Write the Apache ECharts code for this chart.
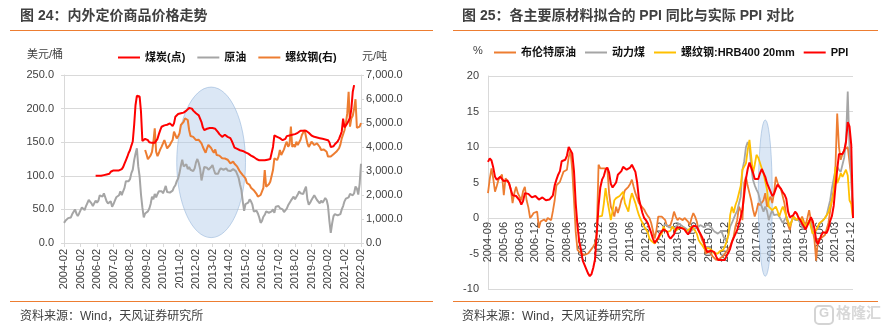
<!DOCTYPE html>
<html><head><meta charset="utf-8">
<script src="https://cdn.jsdelivr.net/npm/echarts@6/dist/echarts.min.js"></script>
<style>html,body{margin:0;padding:0;background:#fff}#c{width:887px;height:331px}</style>
</head><body><div id="c"></div>
<script>
// ---------- Left chart: 内外定价商品价格走势 (monthly, 2004-02 .. 2022-02) ----------
function monthRange(y0, m0, y1, m1) {
  const out = [];
  let y = y0, m = m0;
  while (y < y1 || (y === y1 && m <= m1)) {
    out.push(y + '-' + (m < 10 ? '0' + m : m));
    m++; if (m > 12) { m = 1; y++; }
  }
  return out;
}
const leftMonths = monthRange(2004, 2, 2022, 2);

// 原油 (美元/桶, left axis)
const oil = [
  30,33,33,37,36,38,43,44,50,44,40,
  44,46,53,52,49,55,57,64,63,59,55,57,
  63,60,63,71,70,69,74,73,62,59,59,62,
  54,58,63,68,68,71,77,71,77,82,92,91,
  92,95,104,109,123,133,141,114,99,72,53,38,
  44,43,47,51,58,69,65,73,68,73,77,75,
  77,74,79,85,76,75,75,77,78,83,86,92,
  96,104,115,124,114,114,117,110,113,109,111,107,
  111,120,125,119,110,93,103,113,113,112,109,109,
  113,116,109,103,103,103,108,111,111,109,108,111,
  108,109,107,108,110,112,107,102,97,87,79,62,
  48,58,56,60,65,62,57,47,48,48,44,38,
  30,33,39,42,47,48,45,46,47,50,45,54,
  55,55,52,53,50,46,48,51,56,58,63,64,
  69,65,66,72,77,74,74,73,79,84,65,57,
  60,64,66,71,71,64,64,59,63,60,63,67,
  64,55,33,15,29,40,43,45,41,40,43,50,
  55,62,66,65,68,73,75,71,74,84,81,72,
  88,118
];

// 煤炭(点) (left axis)
const coal = [
  null,null,null,null,null,null,null,null,null,null,null,
  null,null,null,null,null,null,null,null,null,null,null,null,
  100,100,100,100,100,101,101,102,102,102,103,106,
  108,108,108,108,108,108,108,110,113,118,123,128,
  134,138,145,151,175,205,219,220,218,195,152,150,
  155,156,153,150,149,149,149,149,150,155,162,168,
  173,175,175,175,176,177,178,176,174,178,188,190,
  192,192,193,193,194,195,197,199,201,202,200,197,
  195,193,192,190,188,180,172,168,169,170,171,171,
  171,171,171,170,168,165,162,160,158,159,161,160,
  158,157,156,152,147,142,141,140,139,138,138,137,
  136,135,134,133,131,130,129,128,127,125,124,123,
  123,123,123,123,124,124,125,125,126,143,160,160,
  158,157,156,155,153,153,155,159,158,160,161,161,
  161,162,163,164,166,167,167,167,167,167,166,164,
  162,160,159,158,157,157,156,156,155,155,154,154,
  155,153,150,143,141,144,147,149,151,155,160,166,
  185,172,170,178,182,186,200,225,235,null,null,null,
  null,null
];

// 螺纹钢(右) (元/吨, right axis)
const rebar = [
  null,null,null,null,null,null,null,null,null,null,null,
  null,null,null,null,null,null,null,null,null,null,null,null,
  null,null,null,null,null,null,null,null,null,null,null,null,
  null,null,null,null,null,null,null,null,null,null,null,null,
  null,null,null,null,null,null,null,null,null,null,null,null,
  3875,3700,3490,3550,3650,3800,4200,4780,3800,3620,3750,3900,
  4014,4150,4290,4300,3945,3900,4083,4200,4290,4640,4500,4360,
  4450,4570,4917,4900,5050,5195,5150,5125,4708,4458,4500,4420,
  4350,4290,4220,4300,4360,4150,4000,3875,3760,3945,4083,4000,
  3958,3850,3760,3900,3667,3600,3640,3667,3530,3600,3520,3458,
  3470,3458,3320,3360,3390,3300,3250,3180,3100,2970,2900,2830,
  2760,2695,2500,2555,2420,2300,2278,2200,2139,2050,1930,1950,
  2000,2000,2300,3040,2347,2417,2450,2555,2625,3040,3530,3458,
  3458,3600,3875,3667,3750,3900,4083,4220,4014,4100,4847,4000,
  4100,4000,4220,4083,4150,4300,4500,4600,4708,4430,4153,4000,
  4100,4220,4150,4083,4120,4150,4220,4000,3875,3950,3900,3945,
  3800,3600,3550,3600,3667,3700,3750,3800,3850,3945,4100,4360,
  4400,4700,5000,5400,6300,4850,5200,5300,5600,5990,4800,4750,
  4850,5000
];

// ---------- Right chart: 各主要原材料拟合的 PPI 同比与实际 PPI 对比 (2004-09 .. 2022-01) ----------
const rightMonths = monthRange(2004, 9, 2022, 1);

const brentFit = [
  3.5,5.5,7.0,5.5,
  3.7,4.5,5.4,5.8,6.1,3.2,5.6,5.2,4.9,4.0,2.1,3.5,
  4.4,3.5,3.0,2.5,3.8,4.4,2.5,1.5,0.0,0.3,0.7,0.5,
  0.9,-1.4,-0.5,-0.3,-0.2,-0.5,0.0,0.2,-0.3,1.0,2.5,4.6,
  4.8,5.1,5.8,6.5,6.6,6.8,8.6,9.5,6.8,2.5,-2.0,-4.5,
  -4.7,-5.0,-5.2,-5.2,-5.0,-5.0,-4.7,-4.5,-4.0,-3.6,-2.0,7.5,
  7.0,7.0,7.0,6.8,7.0,3.5,1.6,1.0,0.2,1.6,0.7,1.5,
  2.5,3.0,3.9,4.0,4.4,4.8,5.4,4.4,3.5,2.8,2.1,1.8,
  1.6,1.2,0.7,0.3,0.0,-0.7,-1.8,-2.9,-1.7,0.2,0.2,0.2,
  0.0,-0.3,-1.2,-1.2,-1.0,-0.2,0.9,0.2,-0.3,0.0,-0.2,-0.3,
  0.0,0.2,-0.5,-1.0,0.0,0.7,0.2,-0.5,-1.7,-2.4,-3.1,-3.6,
  -5.0,-4.8,-4.7,-5.0,-5.4,-5.6,-5.9,-5.9,-5.7,-5.6,-5.4,-5.0,
  -4.7,-4.3,-4.0,-3.3,-2.6,-1.2,-0.3,1.6,1.0,-0.3,4.9,5.8,
  4.5,3.5,2.5,1.2,0.2,1.0,2.1,1.8,1.6,2.5,3.5,1.6,
  2.5,3.0,2.1,3.5,5.8,5.0,4.4,4.0,4.2,2.0,0.2,-1.0,
  -1.7,-0.5,0.2,0.0,-0.3,-0.5,-0.3,0.2,-0.5,-1.0,0.0,1.1,
  -0.3,-0.5,-3.0,-6.0,-3.1,-3.3,-2.8,-2.6,-2.4,-2.3,-0.7,1.0,
  2.5,4.0,7.2,14.7,10.0,8.2,9.0,9.6,9.8,10.0,10.0,5.8,
  0
];

const coalFit = [
  null,null,null,null,
  null,null,null,null,null,null,null,null,null,null,null,null,
  null,null,null,null,null,null,null,null,null,null,null,null,
  null,null,null,null,null,null,null,null,null,null,null,null,
  null,null,null,null,null,null,null,null,null,null,null,null,
  null,null,null,null,null,null,null,null,null,null,null,null,
  null,null,null,null,null,null,null,null,null,null,null,null,
  null,null,null,null,null,null,null,null,null,null,null,null,
  null,null,null,null,null,null,null,null,null,null,null,null,
  -1.0,-1.2,-1.0,-1.3,-1.5,-1.3,-1.6,-1.2,-1.0,-0.8,-1.0,-1.2,
  -1.4,-1.5,-1.8,-1.6,-1.8,-1.5,-1.3,-1.4,-1.2,-1.0,-0.9,-1.3,
  -1.1,-0.9,-0.7,-1.2,-1.6,-1.9,-2.0,-2.2,-2.0,-1.8,-2.5,-3.0,
  -3.3,-2.4,-1.2,-0.7,-0.5,0.5,1.0,2.0,3.0,6.8,8.0,10.0,
  10.7,10.0,7.2,5.4,4.6,4.0,3.5,2.5,1.6,0.9,1.6,1.0,
  -0.3,0.5,1.1,0.4,0.2,0.5,0.2,0.0,-0.7,-0.5,0.2,-0.5,
  -1.0,-0.5,0.2,-0.3,-0.5,-0.3,-0.8,-1.0,-1.5,-1.2,-1.0,-0.5,
  -0.8,-2.2,-2.0,-1.8,-1.2,-1.0,-0.6,-0.3,0.0,0.4,1.5,2.5,
  4.2,5.5,6.8,7.2,6.8,6.5,7.5,8.5,11.0,17.8,10.0,6.0,
  0
];

const rebarFit = [
  null,null,null,null,
  null,null,null,null,null,null,null,null,null,null,null,null,
  null,null,null,null,null,null,null,null,null,null,null,null,
  null,null,null,null,null,null,null,null,null,null,null,null,
  null,null,null,null,null,null,null,null,null,null,null,null,
  null,null,null,null,null,null,null,null,null,null,null,0.2,
  0.2,0.3,2.0,4.2,2.5,1.1,-0.3,1.0,2.5,2.8,3.0,3.1,
  3.2,3.7,2.1,1.5,0.9,2.5,3.5,3.7,2.1,1.2,0.4,-0.2,
  -0.7,-1.2,-1.4,-2.0,-2.9,-3.2,-3.4,-3.6,-3.2,-2.9,-2.5,-2.2,
  -1.2,-1.7,-2.0,-2.2,-1.8,-1.2,-1.5,-1.8,-1.7,-1.4,-1.6,-1.4,
  -1.6,-1.9,-1.8,-1.5,-1.2,-1.2,-1.8,-2.2,-3.1,-3.5,-3.8,-4.2,
  -4.5,-4.2,-4.0,-4.4,-4.7,-5.0,-5.2,-5.0,-4.7,-4.6,-4.5,-4.0,
  -3.3,-2.4,0.4,1.6,0.7,1.8,2.5,2.3,4.5,6.8,7.0,7.7,
  9.6,11.0,8.6,6.3,7.5,8.9,8.5,8.5,7.0,6.3,6.1,4.0,
  1.6,1.5,1.1,1.3,1.6,1.0,0.2,1.0,1.6,1.0,0.2,-0.5,
  -1.2,-0.5,0.2,0.0,-0.3,0.0,0.2,-0.3,-0.8,-1.2,-0.8,-0.3,
  -0.5,-2.2,-2.0,-1.7,-1.2,-0.7,-0.5,-0.3,0.0,0.2,0.8,1.6,
  2.5,3.5,7.2,4.9,5.5,6.3,5.8,5.8,6.8,6.0,2.5,2.0,
  0
];

const ppi = [
  7.9,8.4,8.1,7.1,
  5.8,5.4,5.6,5.8,5.9,5.2,5.2,5.3,4.9,4.0,3.2,3.2,
  3.1,3.0,2.5,1.9,2.4,3.5,3.6,3.4,3.5,2.9,2.8,3.1,
  3.3,2.6,2.7,2.9,2.8,2.5,2.4,2.6,2.7,3.2,4.6,5.4,
  6.1,6.6,8.0,8.1,8.2,8.8,10.0,10.1,9.1,6.6,2.0,-1.1,
  -3.3,-4.5,-6.0,-6.6,-7.2,-7.8,-8.2,-7.9,-7.0,-5.8,-2.1,1.7,
  4.3,5.4,5.9,6.8,7.1,6.4,4.8,4.3,4.3,5.0,6.1,5.9,
  6.6,7.2,7.3,6.8,6.8,7.1,7.5,7.3,6.5,5.0,2.7,1.7,
  0.7,0.0,-0.3,-0.7,-1.4,-2.1,-2.9,-3.5,-3.6,-2.8,-2.2,-1.9,
  -1.6,-1.6,-1.9,-2.6,-2.9,-2.7,-2.3,-1.6,-1.3,-1.5,-1.4,-1.4,
  -1.6,-2.0,-2.3,-2.0,-1.4,-1.1,-0.9,-1.2,-1.8,-2.2,-2.7,-3.3,
  -4.3,-4.8,-4.6,-4.6,-4.6,-4.8,-5.4,-5.9,-5.9,-5.9,-5.9,-5.9,
  -5.3,-4.9,-4.3,-3.4,-2.8,-2.6,-1.7,-0.8,0.1,1.2,3.3,5.5,
  6.9,7.8,7.6,6.4,5.5,5.5,5.5,6.3,6.9,6.9,5.8,4.9,
  4.3,3.7,3.1,3.4,4.1,4.7,4.6,4.1,3.6,3.3,2.7,0.9,
  0.1,0.1,0.4,0.9,0.6,0.0,-0.3,-0.8,-1.2,-1.6,-1.4,-0.5,
  0.1,-0.4,-1.5,-3.1,-3.7,-3.0,-2.4,-2.0,-2.1,-2.1,-1.5,-0.4,
  0.3,1.7,4.4,6.8,9.0,8.8,9.0,9.5,10.7,13.5,12.9,10.3,
  0
];

// right value-axis range
const rightMin = -10, rightMax = 20, rightStep = 5;

// highlight ellipses (data coordinates: centre, half-width in months, half-height in axis units)
const leftHighlight = { center: '2013-01', value: 120, halfMonths: 25, halfValue: 112 };
const rightHighlight = { center: '2017-11', value: 2.8, halfMonths: 4.3, halfValue: 11 };

const cjk = '"Liberation Sans", "Noto Sans CJK SC", sans-serif';
const gridColor = '#d9d9d9';
const labelColor = '#404040';

const chart = echarts.init(document.getElementById('c'), null, { renderer: 'canvas' });

function fmtThousand(v) {
  const s = Math.round(v).toString().replace(/\B(?=(\d{3})+(?!\d))/g, ',');
  return s + '.0';
}

const rightGrid = { left: 488, top: 76, width: 365, height: 213 };
// place the category axis of the right chart on the zero line of its value axis
const zeroOffset = -rightGrid.height * (0 - rightMin) / (rightMax - rightMin);

const option = {
  backgroundColor: '#fff',
  animation: false,
  textStyle: { fontFamily: cjk },
  legend: [
    {
      left: 113, top: 47, icon: 'rect', itemWidth: 22, itemHeight: 2, itemGap: 12,
      textStyle: { fontSize: 11, fontWeight: 'bold', color: '#111', fontFamily: cjk },
      data: ['煤炭(点)', '原油', '螺纹钢(右)']
    },
    {
      left: 489, top: 42, icon: 'rect', itemWidth: 22, itemHeight: 2, itemGap: 9,
      textStyle: { fontSize: 11, fontWeight: 'bold', color: '#111', fontFamily: cjk },
      data: ['布伦特原油', '动力煤', '螺纹钢:HRB400 20mm', 'PPI']
    }
  ],
  grid: [
    { left: 64, top: 75, width: 297, height: 168 },
    rightGrid
  ],
  xAxis: [
    {
      type: 'category', gridIndex: 0, data: leftMonths, boundaryGap: false,
      axisLine: { lineStyle: { color: gridColor, width: 1 } },
      axisTick: { show: true, interval: 11, length: 4, lineStyle: { color: gridColor } },
      axisLabel: { interval: 11, rotate: 90, fontSize: 11, color: labelColor, margin: 6, fontFamily: cjk },
      splitLine: { show: false }
    },
    {
      type: 'category', gridIndex: 1, data: rightMonths, boundaryGap: false,
      position: 'bottom', offset: zeroOffset,
      axisLine: { onZero: false, lineStyle: { color: gridColor, width: 1 } },
      axisTick: { show: false },
      axisLabel: { interval: 8, rotate: 90, fontSize: 11, color: labelColor, margin: 4, fontFamily: cjk },
      splitLine: { show: false }
    }
  ],
  yAxis: [
    {
      type: 'value', gridIndex: 0, min: 0, max: 250, interval: 50,
      axisLine: { show: true, lineStyle: { color: gridColor } },
      axisTick: { show: true, length: 3, lineStyle: { color: gridColor } },
      axisLabel: { formatter: v => v.toFixed(1), fontSize: 11, color: labelColor, margin: 10, fontFamily: cjk },
      splitLine: { show: true, lineStyle: { color: gridColor, width: 1 } }
    },
    {
      type: 'value', gridIndex: 0, position: 'right', min: 0, max: 7000, interval: 1000,
      axisLine: { show: true, lineStyle: { color: gridColor } },
      axisTick: { show: true, length: 3, lineStyle: { color: gridColor } },
      axisLabel: { formatter: fmtThousand, fontSize: 11, color: labelColor, margin: 5, fontFamily: cjk },
      splitLine: { show: false }
    },
    {
      type: 'value', gridIndex: 1, min: rightMin, max: rightMax, interval: rightStep,
      axisLine: { show: true, lineStyle: { color: gridColor } },
      axisTick: { show: false },
      axisLabel: { fontSize: 11, color: labelColor, margin: 9, fontFamily: cjk },
      splitLine: { show: true, lineStyle: { color: gridColor, width: 1 } }
    }
  ],
  series: [
    { name: '原油', type: 'line', xAxisIndex: 0, yAxisIndex: 0, data: oil, color: '#A5A5A5',
      showSymbol: false, symbol: 'none', lineStyle: { width: 2 }, z: 3 },
    { name: '螺纹钢(右)', type: 'line', xAxisIndex: 0, yAxisIndex: 1, data: rebar, color: '#ED7D31',
      showSymbol: false, symbol: 'none', lineStyle: { width: 2 }, z: 4 },
    { name: '煤炭(点)', type: 'line', xAxisIndex: 0, yAxisIndex: 0, data: coal, color: '#FF0000',
      showSymbol: false, symbol: 'none', lineStyle: { width: 2 }, z: 5 },

    { name: '布伦特原油', type: 'line', xAxisIndex: 1, yAxisIndex: 2, data: brentFit, color: '#ED7D31',
      showSymbol: false, symbol: 'none', lineStyle: { width: 1.8 }, z: 3 },
    { name: '动力煤', type: 'line', xAxisIndex: 1, yAxisIndex: 2, data: coalFit, color: '#A5A5A5',
      showSymbol: false, symbol: 'none', lineStyle: { width: 1.8 }, z: 4 },
    { name: '螺纹钢:HRB400 20mm', type: 'line', xAxisIndex: 1, yAxisIndex: 2, data: rebarFit, color: '#FFC000',
      showSymbol: false, symbol: 'none', lineStyle: { width: 1.8 }, z: 5 },
    { name: 'PPI', type: 'line', xAxisIndex: 1, yAxisIndex: 2, data: ppi, color: '#FF0000',
      showSymbol: false, symbol: 'none', lineStyle: { width: 2 }, z: 6 }
  ]
};
chart.setOption(option);

function ellipseFor(gridIndex, cats, h) {
  const idx = cats.indexOf(h.center);
  const c = chart.convertToPixel({ gridIndex: gridIndex }, [idx, h.value]);
  const e = chart.convertToPixel({ gridIndex: gridIndex }, [idx + h.halfMonths, h.value - h.halfValue]);
  return {
    type: 'ellipse', z: 1,
    shape: { cx: c[0], cy: c[1], rx: Math.abs(e[0] - c[0]), ry: Math.abs(e[1] - c[1]) },
    style: { fill: 'rgba(176,202,232,0.45)', stroke: 'rgba(150,182,218,0.6)', lineWidth: 1 }
  };
}

const textBase = { fontFamily: cjk };
chart.setOption({
  graphic: [
    { type: 'text', left: 20, top: 9, z: 10, style: Object.assign({}, textBase, { text: '图 24：内外定价商品价格走势', fontSize: 14, fontWeight: 'bold', fill: '#404040' }) },
    { type: 'text', left: 462, top: 9, z: 10, style: Object.assign({}, textBase, { text: '图 25：各主要原材料拟合的 PPI 同比与实际 PPI 对比', fontSize: 14, fontWeight: 'bold', fill: '#404040' }) },
    { type: 'line', z: 10, shape: { x1: 10, y1: 30.5, x2: 433, y2: 30.5 }, style: { stroke: '#ED7D31', lineWidth: 1 } },
    { type: 'line', z: 10, shape: { x1: 453, y1: 30.5, x2: 878, y2: 30.5 }, style: { stroke: '#ED7D31', lineWidth: 1 } },
    { type: 'line', z: 10, shape: { x1: 10, y1: 301.5, x2: 433, y2: 301.5 }, style: { stroke: '#ED7D31', lineWidth: 1 } },
    { type: 'line', z: 10, shape: { x1: 453, y1: 301.5, x2: 878, y2: 301.5 }, style: { stroke: '#ED7D31', lineWidth: 1 } },
    { type: 'text', left: 27, top: 49, z: 10, style: Object.assign({}, textBase, { text: '美元/桶', fontSize: 11, fill: '#404040' }) },
    { type: 'text', left: 362, top: 51, z: 10, style: Object.assign({}, textBase, { text: '元/吨', fontSize: 11, fill: '#404040' }) },
    { type: 'text', left: 473, top: 45, z: 10, style: Object.assign({}, textBase, { text: '%', fontSize: 11, fill: '#404040' }) },
    { type: 'text', left: 20, top: 311, z: 10, style: Object.assign({}, textBase, { text: '资料来源：Wind，天风证券研究所', fontSize: 12, fill: '#404040' }) },
    { type: 'text', left: 462, top: 311, z: 10, style: Object.assign({}, textBase, { text: '资料来源：Wind，天风证券研究所', fontSize: 12, fill: '#404040' }) },
    { type: 'rect', z: 10, shape: { x: 815, y: 306, width: 18, height: 18, r: 4 }, style: { fill: 'none', stroke: '#d4d4d4', lineWidth: 2 } },
    { type: 'text', left: 819, top: 307, z: 10, style: Object.assign({}, textBase, { text: 'G', fontSize: 13, fontWeight: 'bold', fill: '#d4d4d4' }) },
    { type: 'text', left: 836, top: 306, z: 10, style: Object.assign({}, textBase, { text: '格隆汇', fontSize: 15, fontWeight: 'bold', fill: '#d8d8d8' }) },
    ellipseFor(0, leftMonths, leftHighlight),
    ellipseFor(1, rightMonths, rightHighlight)
  ]
});
</script></body></html>
